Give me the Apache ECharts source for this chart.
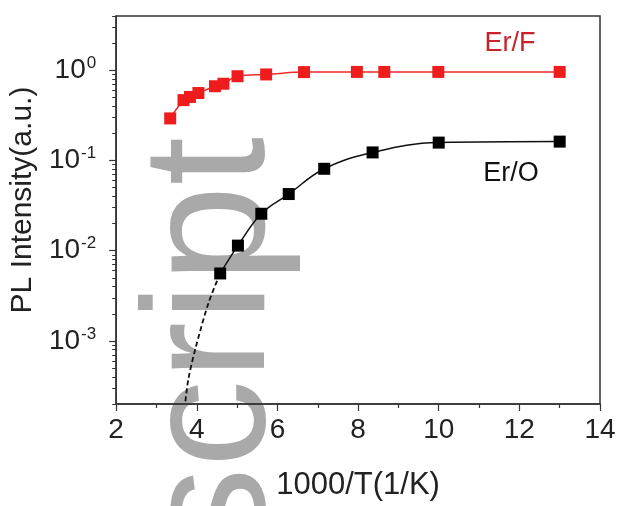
<!DOCTYPE html>
<html><head><meta charset="utf-8">
<script src="https://cdn.jsdelivr.net/npm/echarts@6/dist/echarts.min.js"></script>
<style>html,body{margin:0;padding:0;background:#fff}#c{width:622px;height:506px}</style>
</head><body><div id="c"></div>
<script>
// Er/F (red) data: x = 1000/T, y = PL intensity
var erF_x = [3.34, 3.67, 3.83, 4.04, 4.45, 4.66, 5.01, 5.72, 6.66, 7.97, 8.65, 9.99, 13.0];
var erF_y = [0.293, 0.467, 0.507, 0.56, 0.666, 0.71, 0.86, 0.90, 0.955, 0.96, 0.96, 0.96, 0.96];
// Er/O (black) data
var erO_x = [4.58, 5.02, 5.60, 6.28, 7.16, 8.36, 10.0, 13.0];
var erO_y = [0.0056, 0.0114, 0.0257, 0.0425, 0.081, 0.123, 0.158, 0.162];
// Er/O dashed extrapolation
var erOext_x = [4.58, 4.29, 3.96, 3.79, 3.71];
var erOext_y = [0.0056, 0.00264, 0.000805, 0.000376, 0.0002];
// axis ticks
var xTicks = [2, 4, 6, 8, 10, 12, 14];
var yTicks = [0.001, 0.01, 0.1, 1];
var yExp = ['-3', '-2', '-1', '0'];
var yMin = 0.0002, yMax = 4;

function zip(a, b) { return a.map(function (v, i) { return [v, b[i]]; }); }
var minorY = [];
for (var e = -4; e <= 0; e++) {
  for (var m = 2; m <= 9; m++) {
    var v = m * Math.pow(10, e);
    if (v >= yMin && v <= yMax) minorY.push(v);
  }
}
var FONT = 'Liberation Sans, Arial, sans-serif';
var chart = echarts.init(document.getElementById('c'));
chart.setOption({
  animation: false,
  backgroundColor: '#fff',
  grid: { left: 116, right: 22, top: 16, bottom: 101, show: true, borderColor: '#333', borderWidth: 1.5, backgroundColor: 'transparent' },
  xAxis: {
    type: 'value', min: xTicks[0], max: xTicks[xTicks.length - 1], interval: 2,
    name: '1000/T(1/K)', nameLocation: 'middle', nameGap: 66,
    nameTextStyle: { fontFamily: FONT, fontSize: 31, color: '#222' },
    axisLine: { lineStyle: { color: '#333', width: 1.5 } },
    axisTick: { length: 7, lineStyle: { color: '#333', width: 1.2 } },
    minorTick: { show: true, splitNumber: 2, length: 4, lineStyle: { color: '#333', width: 1.2 } },
    axisLabel: { fontFamily: FONT, fontSize: 28, color: '#222', margin: 12 },
    splitLine: { show: false }
  },
  yAxis: [{
    type: 'log', min: yMin, max: yMax, logBase: 10,
    name: 'PL Intensity(a.u.)', nameLocation: 'middle', nameGap: 73,
    nameTextStyle: { fontFamily: FONT, fontSize: 30, color: '#222', padding: [0, 0, 0, 20] },
    axisLine: { show: true, lineStyle: { color: '#333', width: 1.5 } },
    axisTick: { length: 7, customValues: yTicks, lineStyle: { color: '#333', width: 1.2 } },
    axisLabel: {
      customValues: yTicks, fontFamily: FONT, fontSize: 28, color: '#222', margin: 20,
      formatter: function (v) {
        var i = yTicks.findIndex(function (t) { return Math.abs(t - v) / t < 1e-6; });
        return '{b|10}{s|' + (i >= 0 ? yExp[i] : '') + '}';
      },
      rich: {
        b: { fontFamily: FONT, fontSize: 28, color: '#222' },
        s: { fontFamily: FONT, fontSize: 17, color: '#222', padding: [0, 0, 14, 1] }
      }
    },
    splitLine: { show: false }
  }, {
    type: 'log', min: yMin, max: yMax, logBase: 10, position: 'left',
    axisLine: { show: false },
    axisTick: { show: true, length: 4, customValues: minorY, lineStyle: { color: '#333', width: 1 } },
    axisLabel: { show: false },
    splitLine: { show: false }
  }],
  graphic: [{
    type: 'text', z: -10, zlevel: 0, x: 216, y: 555, rotation: Math.PI / 2,
    style: { text: 'script', fontFamily: FONT, fontSize: 175, fill: '#a9a9a9', textAlign: 'left', textVerticalAlign: 'middle' }
  }, {
    type: 'text', x: 510, y: 44,
    style: { text: 'Er/F', fontFamily: FONT, fontSize: 27, fill: '#c8232c', textAlign: 'center', textVerticalAlign: 'middle' }
  }, {
    type: 'text', x: 511, y: 174,
    style: { text: 'Er/O', fontFamily: FONT, fontSize: 27, fill: '#111', textAlign: 'center', textVerticalAlign: 'middle' }
  }],
  series: [{
    name: 'Er/F', type: 'line', smooth: 0.4, data: zip(erF_x, erF_y),
    symbol: 'rect', symbolSize: 12, itemStyle: { color: '#ee1c1c' },
    lineStyle: { color: '#ee2a2a', width: 1.5 }, z: 5
  }, {
    name: 'Er/O', type: 'line', smooth: 0.4, data: zip(erO_x, erO_y),
    symbol: 'rect', symbolSize: 12, itemStyle: { color: '#000' },
    lineStyle: { color: '#111', width: 1.5 }, z: 5
  }, {
    name: 'Er/O ext', type: 'line', smooth: 0.3, data: zip(erOext_x, erOext_y),
    symbol: 'none', lineStyle: { color: '#111', width: 1.8, type: [5, 3] }, z: 4
  }]
});
</script></body></html>
